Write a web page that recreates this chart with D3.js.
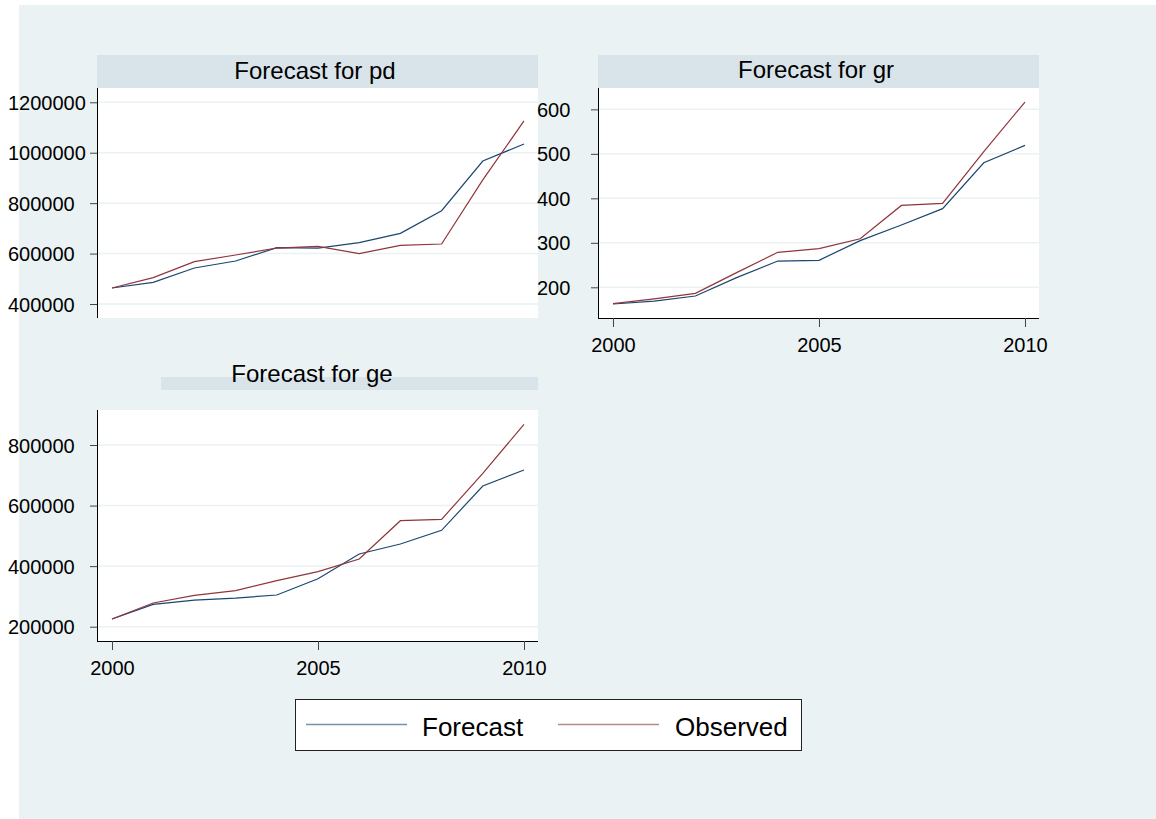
<!DOCTYPE html>
<html>
<head>
<meta charset="utf-8">
<script src="https://cdn.jsdelivr.net/npm/d3@7"></script>
<style>
  body { margin: 0; background: #fff; }
  svg { display: block; font-family: "Liberation Sans", Arial, sans-serif; }
</style>
</head>
<body>
<svg width="1156" height="819"></svg>
<script>
// Values
const years = [2000, 2001, 2002, 2003, 2004, 2005, 2006, 2007, 2008, 2009, 2010];
const yearTicks = [2000, 2005, 2010];

const pdForecast = [463500, 486000, 542800, 570600, 623500, 622000, 643300, 680300, 770000, 967000, 1034700];
const pdObserved = [463500, 504500, 568000, 594400, 622000, 628800, 599700, 632700, 638000, 892000, 1126000];
const pdTicks = [400000, 600000, 800000, 1000000, 1200000];

const grForecast = [162.5, 169, 180.5, 221.7, 259, 260.7, 305, 340, 376.8, 480, 519];
const grObserved = [163.3, 174, 186.5, 233, 278.7, 287, 309, 384, 388.8, 505, 616.5];
const grTicks = [200, 300, 400, 500, 600];

const geForecast = [225300, 273800, 288000, 294700, 304600, 358500, 440000, 473000, 518200, 664600, 717400];
const geObserved = [225300, 278200, 303500, 318900, 352000, 381700, 423500, 550000, 554500, 706400, 868300];
const geTicks = [200000, 400000, 600000, 800000];

const titles = ["Forecast for pd", "Forecast for gr", "Forecast for ge"];
const seriesNames = ["Forecast", "Observed"];

// Colours (Stata s2color look)
const BG = "#eaf2f3";
const BAND = "#d8e4ea";
const GRID = "#eaf2f3";
const COLORS = ["#1a476f", "#90353b"];

const svg = d3.select("svg");

// Outer graph region
svg.append("rect")
    .attr("x", 19).attr("y", 5)
    .attr("width", 1156 - 19).attr("height", 819 - 5)
    .attr("fill", BG);

// Panel layout
const panels = [
    { title: titles[0], f: pdForecast, o: pdObserved, ticks: pdTicks,
      left: 97, right: 538, top: 88, bottom: 318, yMin: 344500, yMax: 1256700,
      labelX: 8, xAxis: false,
      band: { x0: 97, x1: 538, y0: 55, y1: 88 }, titleX: 315, titleY: 79 },
    { title: titles[1], f: grForecast, o: grObserved, ticks: grTicks,
      left: 598, right: 1039, top: 88, bottom: 318, yMin: 131, yMax: 648,
      labelX: 537, xAxis: true,
      band: { x0: 598, x1: 1039, y0: 55, y1: 88 }, titleX: 816, titleY: 78 },
    { title: titles[2], f: geForecast, o: geObserved, ticks: geTicks,
      left: 97, right: 538, top: 410, bottom: 641, yMin: 152800, yMax: 915600,
      labelX: 8, xAxis: true,
      band: { x0: 161, x1: 538, y0: 377, y1: 390 }, titleX: 312, titleY: 382 }
];

panels.forEach((p) => {
    const g = svg.append("g");

    // Title band and text
    g.append("rect")
        .attr("x", p.band.x0).attr("y", p.band.y0)
        .attr("width", p.band.x1 - p.band.x0).attr("height", p.band.y1 - p.band.y0)
        .attr("fill", BAND);
    g.append("text")
        .attr("x", p.titleX).attr("y", p.titleY)
        .attr("text-anchor", "middle")
        .attr("font-size", 24)
        .attr("fill", "#000")
        .text(p.title);

    // Plot region
    g.append("rect")
        .attr("x", p.left).attr("y", p.top)
        .attr("width", p.right - p.left).attr("height", p.bottom - p.top)
        .attr("fill", "#fff");

    const x = d3.scaleLinear()
        .domain([1999.636, 2010.34])
        .range([p.left, p.right]);
    const y = d3.scaleLinear()
        .domain([p.yMin, p.yMax])
        .range([p.bottom, p.top]);

    // Grid lines
    g.append("g")
        .selectAll("line")
        .data(p.ticks)
        .enter()
        .append("line")
        .attr("x1", p.left + 1).attr("x2", p.right)
        .attr("y1", (d) => y(d)).attr("y2", (d) => y(d))
        .attr("stroke", GRID)
        .attr("stroke-width", 1.5);

    // Series lines
    const line = d3.line()
        .x((d, i) => x(years[i]))
        .y((d) => y(d));
    [p.f, p.o].forEach((vals, k) => {
        g.append("path")
            .datum(vals)
            .attr("d", line)
            .attr("fill", "none")
            .attr("stroke", COLORS[k])
            .attr("stroke-width", 1.2);
    });

    // Y axis
    const yAxis = g.append("g")
        .attr("transform", `translate(${p.left},0)`)
        .call(d3.axisLeft(y).tickValues(p.ticks).tickSize(7).tickFormat(d3.format("d")));
    yAxis.select(".domain")
        .attr("d", `M0.5,${p.top}V${p.bottom}`)
        .attr("stroke", "#000");
    yAxis.selectAll(".tick line").attr("stroke", "#444");
    yAxis.selectAll(".tick text")
        .attr("x", p.labelX - p.left)
        .attr("dy", "0.35em")
        .attr("text-anchor", "start")
        .attr("font-size", 20)
        .attr("font-family", "Liberation Sans, Arial, sans-serif")
        .attr("fill", "#000");

    // X axis
    if (p.xAxis) {
        const xAxis = g.append("g")
            .attr("transform", `translate(0,${p.bottom})`)
            .call(d3.axisBottom(x).tickValues(yearTicks).tickSize(9).tickFormat(d3.format("d")));
        xAxis.select(".domain")
            .attr("d", `M${p.left},0.5H${p.right}`)
            .attr("stroke", "#000");
        xAxis.selectAll(".tick line").attr("stroke", "#444");
        xAxis.selectAll(".tick text")
            .attr("y", 20)
            .attr("font-size", 20)
            .attr("font-family", "Liberation Sans, Arial, sans-serif")
            .attr("fill", "#000");
    }
});

// Legend
const legend = svg.append("g");
legend.append("rect")
    .attr("x", 295.5).attr("y", 699.5)
    .attr("width", 506).attr("height", 51)
    .attr("fill", "#fff")
    .attr("stroke", "#222")
    .attr("stroke-width", 1);

const legendItems = [
    { x0: 306, x1: 407, tx: 422 },
    { x0: 558, x1: 659, tx: 675 }
];
legendItems.forEach((it, k) => {
    legend.append("line")
        .attr("x1", it.x0).attr("x2", it.x1)
        .attr("y1", 724.5).attr("y2", 724.5)
        .attr("stroke", COLORS[k])
        .attr("stroke-opacity", 0.6)
        .attr("stroke-width", 1.5);
    legend.append("text")
        .attr("x", it.tx).attr("y", 736)
        .attr("font-size", 26)
        .attr("fill", "#000")
        .text(seriesNames[k]);
});
</script>
</body>
</html>
